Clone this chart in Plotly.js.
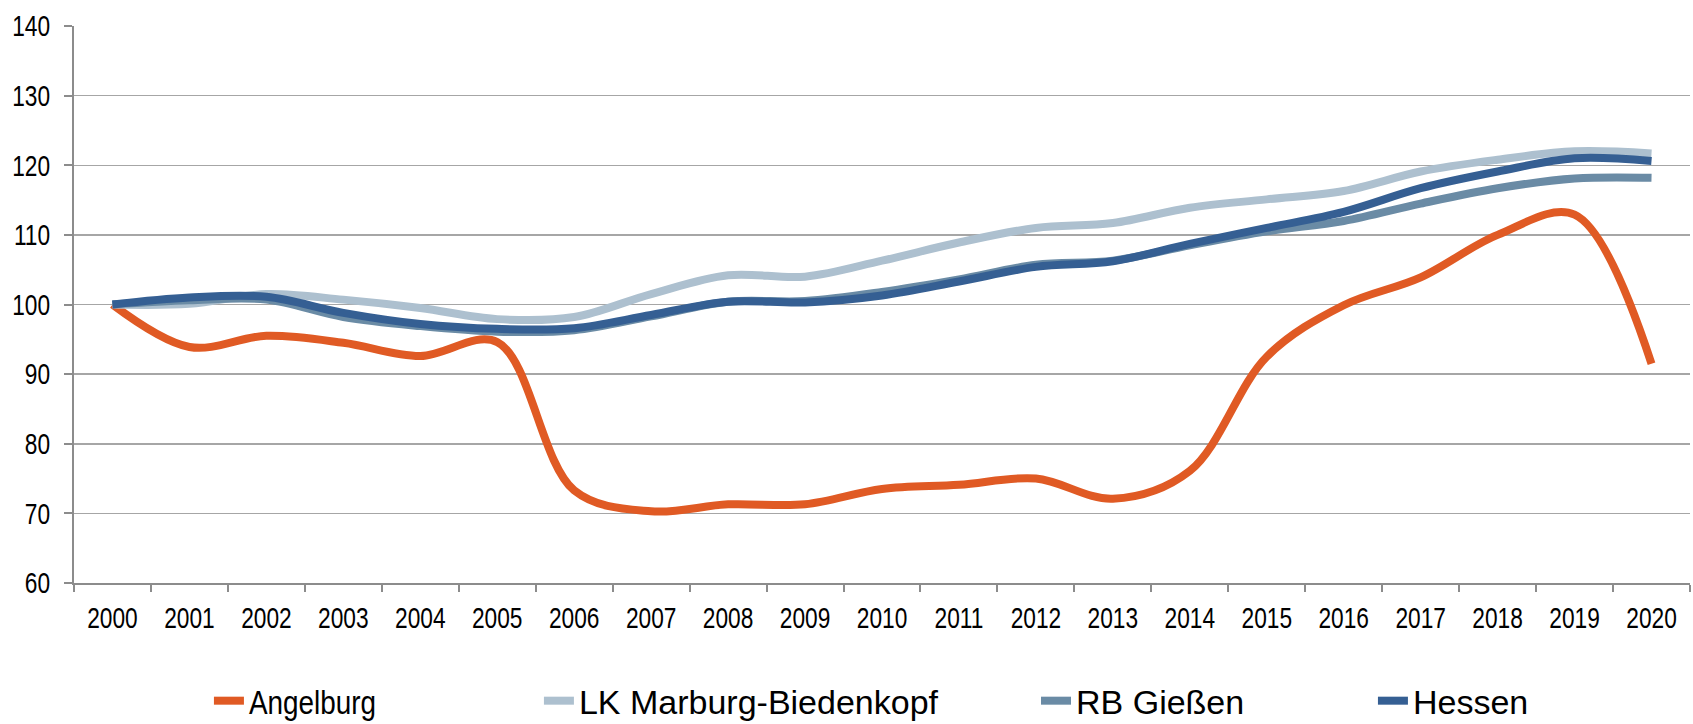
<!DOCTYPE html>
<html>
<head>
<meta charset="utf-8">
<script src="https://cdn.plot.ly/plotly-3.0.1.min.js"></script>
<style>
  html, body { margin: 0; padding: 0; background: #fff; }
  #chart { width: 1693px; height: 724px; }
</style>
</head>
<body>
<div id="chart"></div>
<script>
const years = ["2000","2001","2002","2003","2004","2005","2006","2007","2008","2009",
               "2010","2011","2012","2013","2014","2015","2016","2017","2018","2019","2020"];

const angelburg = [100, 93.9, 95.5, 94.5, 92.6, 94.6, 73.3, 70.3, 71.3, 71.3,
                   73.5, 74.1, 75.0, 72.1, 76.1, 92.5, 99.9, 103.9, 110.0, 112.9, 91.5];
const lkMarburg = [100, 100.1, 101.5, 100.7, 99.5, 97.9, 98.2, 101.5, 104.2, 104.0,
                   106.3, 108.9, 111.0, 111.7, 113.9, 115.1, 116.3, 119.1, 120.8, 122.0, 121.7];
const rbGiessen = [100, 100.6, 100.7, 98.2, 96.9, 96.1, 96.3, 98.3, 100.4, 100.5,
                   101.8, 103.6, 105.7, 106.3, 108.5, 110.5, 112.0, 114.5, 116.7, 118.1, 118.2];
const hessen    = [100, 101.0, 101.1, 98.8, 97.2, 96.5, 96.6, 98.5, 100.4, 100.3,
                   101.3, 103.3, 105.4, 106.2, 108.7, 111.0, 113.3, 116.7, 119.1, 121.0, 120.6];

const names  = ["Angelburg", "LK Marburg-Biedenkopf", "RB Gießen", "Hessen"];
const series = [angelburg, lkMarburg, rbGiessen, hessen];
const colors = ["#E05A24", "#ADC0CF", "#6A8BA5", "#355F93"];
const legendIds = ["legend", "legend2", "legend3", "legend4"];
const legendX = [0.0835, 0.2877, 0.5953, 0.8038];

const FONT = "'Liberation Sans', Arial, sans-serif";
// the original uses a narrow face; squeeze the glyphs horizontally
const TICK_SQUEEZE = 0.77;
const LEGEND_SQUEEZE = 0.82;

const traces = series.map((s, i) => ({
  x: years,
  y: s,
  name: names[i],
  type: "scatter",
  mode: "lines",
  line: { color: colors[i], width: 8, shape: "spline", smoothing: 1 },
  legend: legendIds[i]
}));

const layout = {
  width: 1693,
  height: 724,
  margin: { l: 74, r: 3, t: 26, b: 141, autoexpand: false },
  paper_bgcolor: "#fff",
  plot_bgcolor: "#fff",
  font: { family: FONT, size: 29.5, color: "#000" },
  showlegend: true,
  xaxis: {
    type: "category",
    range: [-0.5, 20.5],
    tickson: "boundaries",
    ticks: "outside",
    ticklen: 7,
    tickwidth: 2,
    tickcolor: "#8C8C8C",
    showgrid: false,
    showline: true,
    linecolor: "#8C8C8C",
    linewidth: 2,
    ticklabelstandoff: 8,
    fixedrange: true
  },
  yaxis: {
    range: [60, 140],
    dtick: 10,
    ticks: "outside",
    ticklen: 8,
    tickwidth: 2,
    tickcolor: "#8C8C8C",
    showgrid: true,
    gridcolor: "#A6A6A6",
    gridwidth: 1.5,
    zeroline: false,
    showline: true,
    linecolor: "#8C8C8C",
    linewidth: 2,
    ticklabelstandoff: 8,
    fixedrange: true
  }
};

legendIds.forEach((id, i) => {
  layout[id] = {
    x: legendX[i],
    y: -0.212,
    xanchor: "left",
    yanchor: "middle",
    orientation: "h",
    bgcolor: "rgba(0,0,0,0)",
    font: { family: FONT, size: 34, color: "#000" }
  };
});

function squeeze(selector, anchor, s) {
  document.querySelectorAll(selector).forEach(t => {
    const b = t.getBBox();
    const ax = anchor === "end" ? b.x + b.width : anchor === "middle" ? b.x + b.width / 2 : b.x;
    const prev = t.getAttribute("transform") || "";
    t.setAttribute("transform", `${prev} translate(${ax},0) scale(${s},1) translate(${-ax},0)`);
  });
}

Plotly.newPlot("chart", traces, layout, { displayModeBar: false, staticPlot: true }).then(() => {
  squeeze("g.xtick text", "middle", TICK_SQUEEZE);
  squeeze("g.ytick text", "end", TICK_SQUEEZE);
  squeeze("text.legendtext", "start", LEGEND_SQUEEZE);
});
</script>
</body>
</html>
